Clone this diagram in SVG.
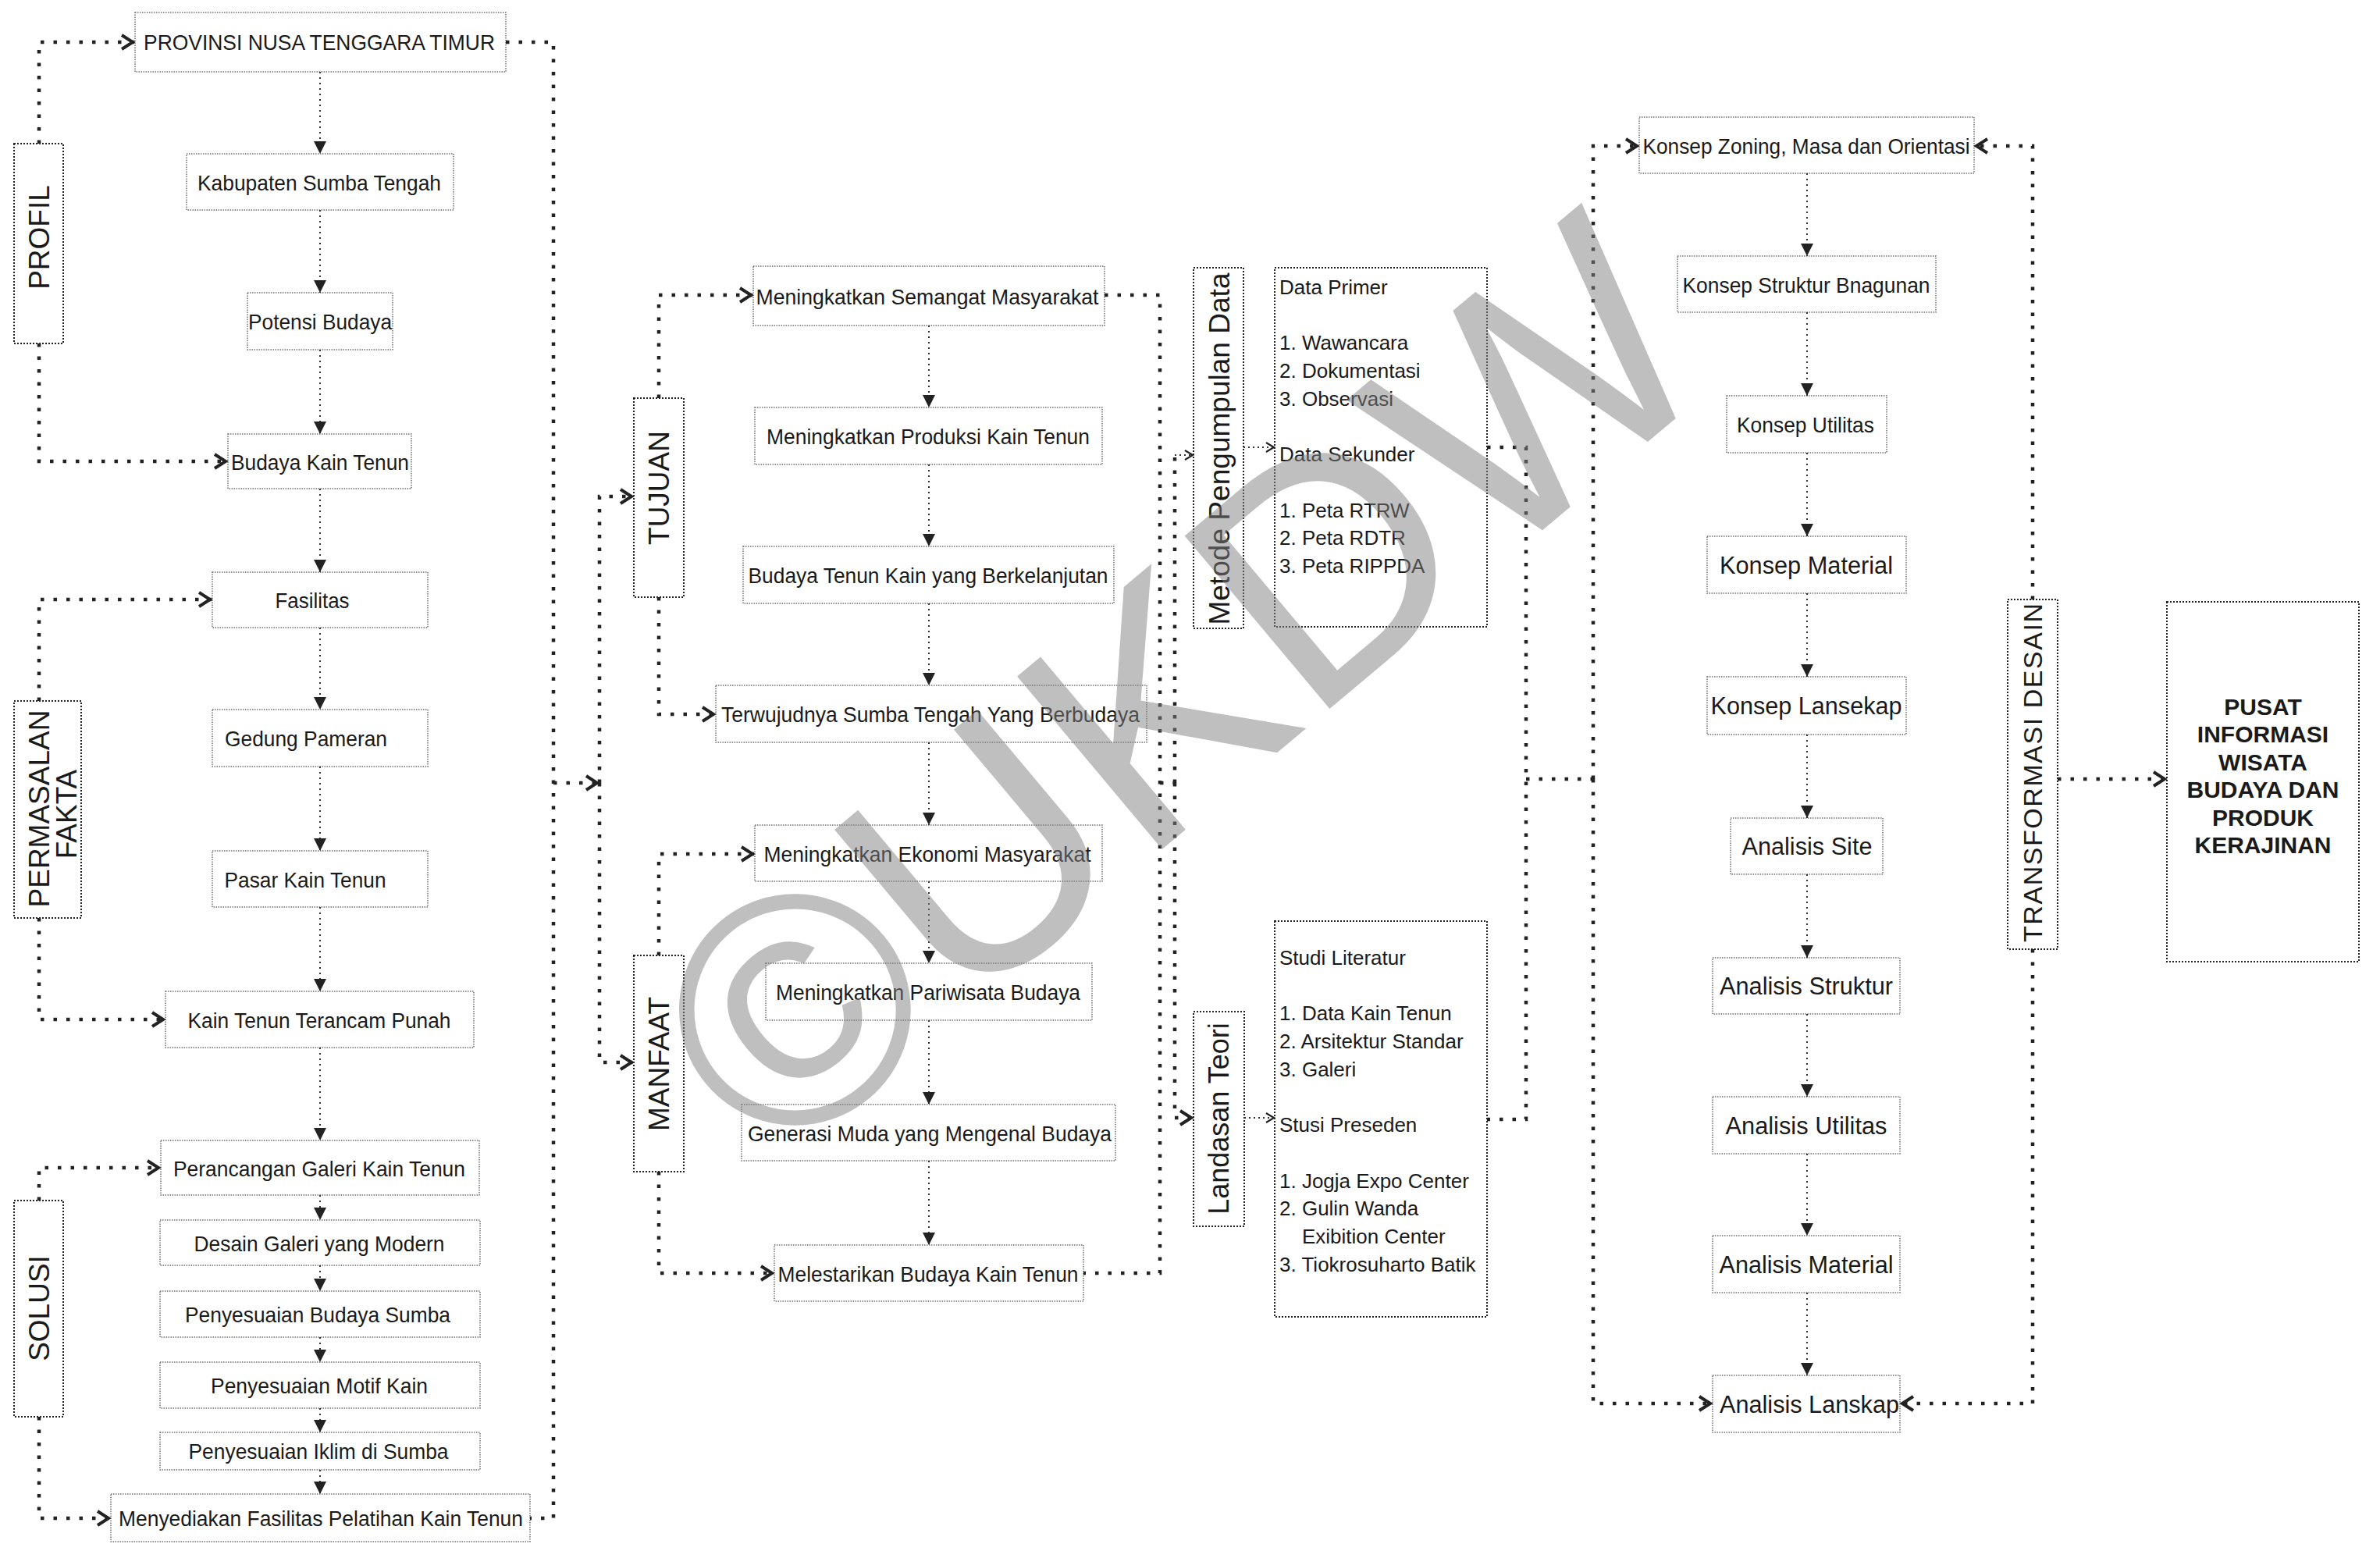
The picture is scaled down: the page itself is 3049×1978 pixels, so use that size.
<svg xmlns="http://www.w3.org/2000/svg" width="3049" height="1978" viewBox="0 0 3049 1978">
<style>
.box{fill:#fff;stroke:#707070;stroke-width:1.5;stroke-dasharray:1.5 1.5}
.lbl{fill:#fff;stroke:#222;stroke-width:2;stroke-dasharray:2 2}
.t{font-family:"Liberation Sans",Arial,sans-serif;font-size:28px;fill:#1a1a1a;text-anchor:middle}
.tb{font-family:"Liberation Sans",Arial,sans-serif;font-size:31px;fill:#1a1a1a;text-anchor:middle}
.rl{font-family:"Liberation Sans",Arial,sans-serif;font-size:37px;fill:#1a1a1a;text-anchor:middle}
.ls{font-family:"Liberation Sans",Arial,sans-serif;font-size:26px;fill:#1a1a1a}
.bold{font-family:"Liberation Sans",Arial,sans-serif;font-size:30px;font-weight:bold;fill:#1a1a1a;text-anchor:middle}
.tv{fill:none;stroke:#333;stroke-width:2;stroke-dasharray:2 5;marker-end:url(#tri)}
.fb{fill:none;stroke:#222;stroke-width:4.5;stroke-dasharray:4.5 12}
.th{fill:none;stroke:#333;stroke-width:2;stroke-dasharray:2 4}
.ca{marker-end:url(#chev)}
.cs{marker-end:url(#chevs)}
.wm{font-family:"Liberation Sans",Arial,sans-serif;font-size:420px;fill:#808080}
</style>
<defs>
<marker id="tri" viewBox="0 0 16 16" refX="16" refY="8" markerWidth="16" markerHeight="16" markerUnits="userSpaceOnUse" orient="auto"><path d="M0,0 L16,8 L0,16 z" fill="#222"/></marker>
<marker id="chev" viewBox="-20 -12 22 24" refX="0" refY="0" markerWidth="22" markerHeight="24" markerUnits="userSpaceOnUse" orient="auto" style="overflow:visible"><path d="M-17,-9 L-3,0 L-17,9" fill="none" stroke="#222" stroke-width="4" stroke-dasharray="none"/></marker>
<marker id="chevs" viewBox="-14 -8 16 16" refX="0" refY="0" markerWidth="16" markerHeight="16" markerUnits="userSpaceOnUse" orient="auto" style="overflow:visible"><path d="M-11,-6 L-1,0 L-11,6" fill="none" stroke="#222" stroke-width="2.2" stroke-dasharray="none"/></marker>
</defs>
<rect width="3049" height="1978" fill="#fff"/>

<!-- left column nodes -->
<g id="n-provinsi"><rect class="box" x="173" y="16" width="475" height="76"/><text class="t" x="409" y="64" textLength="450" lengthAdjust="spacingAndGlyphs">PROVINSI NUSA TENGGARA TIMUR</text></g>
<g id="n-kabupaten"><rect class="box" x="239" y="197" width="342" height="72"/><text class="t" x="409" y="244" textLength="312" lengthAdjust="spacingAndGlyphs">Kabupaten Sumba Tengah</text></g>
<g id="n-potensi"><rect class="box" x="317" y="375" width="186" height="73"/><text class="t" x="410" y="422" textLength="184" lengthAdjust="spacingAndGlyphs">Potensi Budaya</text></g>
<g id="n-budayakain"><rect class="box" x="292" y="556" width="235" height="70"/><text class="t" x="410" y="602" textLength="228" lengthAdjust="spacingAndGlyphs">Budaya Kain Tenun</text></g>
<g id="n-fasilitas"><rect class="box" x="272" y="733" width="276" height="71"/><text class="t" x="400" y="779" textLength="95" lengthAdjust="spacingAndGlyphs">Fasilitas</text></g>
<g id="n-gedung"><rect class="box" x="272" y="909" width="276" height="73"/><text class="t" x="392" y="956" textLength="208" lengthAdjust="spacingAndGlyphs">Gedung Pameran</text></g>
<g id="n-pasar"><rect class="box" x="272" y="1090" width="276" height="72"/><text class="t" x="391" y="1137" textLength="207" lengthAdjust="spacingAndGlyphs">Pasar Kain Tenun</text></g>
<g id="n-terancam"><rect class="box" x="212" y="1270" width="395" height="72"/><text class="t" x="409" y="1317" textLength="337" lengthAdjust="spacingAndGlyphs">Kain Tenun Terancam Punah</text></g>
<g id="n-perancangan"><rect class="box" x="206" y="1461" width="408" height="70"/><text class="t" x="409" y="1507" textLength="374" lengthAdjust="spacingAndGlyphs">Perancangan Galeri Kain Tenun</text></g>
<g id="n-desain"><rect class="box" x="205" y="1563" width="410" height="58"/><text class="t" x="409" y="1603" textLength="321" lengthAdjust="spacingAndGlyphs">Desain Galeri yang Modern</text></g>
<g id="n-budayasumba"><rect class="box" x="205" y="1654" width="410" height="59"/><text class="t" x="407" y="1694" textLength="340" lengthAdjust="spacingAndGlyphs">Penyesuaian Budaya Sumba</text></g>
<g id="n-motif"><rect class="box" x="205" y="1745" width="410" height="59"/><text class="t" x="409" y="1785" textLength="278" lengthAdjust="spacingAndGlyphs">Penyesuaian Motif Kain</text></g>
<g id="n-iklim"><rect class="box" x="205" y="1835" width="410" height="48"/><text class="t" x="408" y="1869" textLength="333" lengthAdjust="spacingAndGlyphs">Penyesuaian Iklim di Sumba</text></g>
<g id="n-menyediakan"><rect class="box" x="142" y="1914" width="537" height="61"/><text class="t" x="411" y="1955" textLength="518" lengthAdjust="spacingAndGlyphs">Menyediakan Fasilitas Pelatihan Kain Tenun</text></g>

<!-- left labels -->
<g id="l-profil"><rect class="lbl" x="18" y="184" width="63" height="256"/><text class="rl" transform="translate(63,304) rotate(-90)">PROFIL</text></g>
<g id="l-permasalan"><rect class="lbl" x="18" y="898" width="86" height="278"/><text class="rl" transform="translate(63,1036) rotate(-90)">PERMASALAN</text><text class="rl" transform="translate(98,1043) rotate(-90)">FAKTA</text></g>
<g id="l-solusi"><rect class="lbl" x="18" y="1538" width="63" height="277"/><text class="rl" transform="translate(63,1676) rotate(-90)">SOLUSI</text></g>

<!-- middle labels -->
<g id="l-tujuan"><rect class="lbl" x="812" y="510" width="64" height="255"/><text class="rl" transform="translate(857,625) rotate(-90)">TUJUAN</text></g>
<g id="l-manfaat"><rect class="lbl" x="812" y="1224" width="64" height="277"/><text class="rl" transform="translate(857,1363) rotate(-90)">MANFAAT</text></g>

<!-- middle column nodes -->
<g id="n-semangat"><rect class="box" x="965" y="341" width="450" height="76"/><text class="t" x="1188" y="390" textLength="439" lengthAdjust="spacingAndGlyphs">Meningkatkan Semangat Masyarakat</text></g>
<g id="n-produksi"><rect class="box" x="967" y="522" width="445" height="73"/><text class="t" x="1189" y="569" textLength="414" lengthAdjust="spacingAndGlyphs">Meningkatkan Produksi Kain Tenun</text></g>
<g id="n-berkelanjutan"><rect class="box" x="952" y="700" width="475" height="73"/><text class="t" x="1189" y="747" textLength="461" lengthAdjust="spacingAndGlyphs">Budaya Tenun Kain yang Berkelanjutan</text></g>
<g id="n-terwujudnya"><rect class="box" x="917" y="878" width="552" height="73"/><text class="t" x="1192" y="925" textLength="536" lengthAdjust="spacingAndGlyphs">Terwujudnya Sumba Tengah Yang Berbudaya</text></g>
<g id="n-ekonomi"><rect class="box" x="967" y="1057" width="445" height="72"/><text class="t" x="1188" y="1104" textLength="419" lengthAdjust="spacingAndGlyphs">Meningkatkan Ekonomi Masyarakat</text></g>
<g id="n-pariwisata"><rect class="box" x="981" y="1234" width="418" height="73"/><text class="t" x="1189" y="1281" textLength="390" lengthAdjust="spacingAndGlyphs">Meningkatkan Pariwisata Budaya</text></g>
<g id="n-generasi"><rect class="box" x="950" y="1415" width="479" height="72"/><text class="t" x="1191" y="1462" textLength="466" lengthAdjust="spacingAndGlyphs">Generasi Muda yang Mengenal Budaya</text></g>
<g id="n-melestarikan"><rect class="box" x="992" y="1595" width="396" height="72"/><text class="t" x="1189" y="1642" textLength="385" lengthAdjust="spacingAndGlyphs">Melestarikan Budaya Kain Tenun</text></g>

<!-- method / theory -->
<g id="l-metode"><rect class="lbl" x="1529" y="343" width="64" height="462"/><text class="rl" style="font-size:36px" transform="translate(1575,575) rotate(-90)" textLength="451" lengthAdjust="spacingAndGlyphs">Metode Pengumpulan Data</text></g>
<g id="n-data"><rect class="lbl" x="1633" y="343" width="272" height="460"/>
<text class="ls" x="1639" y="377">Data Primer</text>
<text class="ls" x="1639" y="448">1. Wawancara</text>
<text class="ls" x="1639" y="484">2. Dokumentasi</text>
<text class="ls" x="1639" y="520">3. Observasi</text>
<text class="ls" x="1639" y="591">Data Sekunder</text>
<text class="ls" x="1639" y="663">1. Peta RTRW</text>
<text class="ls" x="1639" y="698">2. Peta RDTR</text>
<text class="ls" x="1639" y="734">3. Peta RIPPDA</text></g>
<g id="l-landasan"><rect class="lbl" x="1529" y="1296" width="65" height="275"/><text class="rl" style="font-size:36px" transform="translate(1574,1433) rotate(-90)">Landasan Teori</text></g>
<g id="n-studi"><rect class="lbl" x="1633" y="1180" width="272" height="507"/>
<text class="ls" x="1639" y="1236">Studi Literatur</text>
<text class="ls" x="1639" y="1307">1. Data Kain Tenun</text>
<text class="ls" x="1639" y="1343">2. Arsitektur Standar</text>
<text class="ls" x="1639" y="1379">3. Galeri</text>
<text class="ls" x="1639" y="1450">Stusi Preseden</text>
<text class="ls" x="1639" y="1522">1. Jogja Expo Center</text>
<text class="ls" x="1639" y="1557">2. Gulin Wanda</text>
<text class="ls" x="1668" y="1593">Exibition Center</text>
<text class="ls" x="1639" y="1629">3. Tiokrosuharto Batik</text></g>

<!-- right column nodes -->
<g id="n-zoning"><rect class="box" x="2100" y="150" width="429" height="72"/><text class="t" x="2314" y="197" textLength="419" lengthAdjust="spacingAndGlyphs">Konsep Zoning, Masa dan Orientasi</text></g>
<g id="n-kstruktur"><rect class="box" x="2149" y="328" width="331" height="72"/><text class="t" x="2314" y="375" textLength="317" lengthAdjust="spacingAndGlyphs">Konsep Struktur Bnagunan</text></g>
<g id="n-kutilitas"><rect class="box" x="2212" y="507" width="205" height="73"/><text class="t" x="2313" y="554" textLength="176" lengthAdjust="spacingAndGlyphs">Konsep Utilitas</text></g>
<g id="n-kmaterial"><rect class="box" x="2187" y="687" width="255" height="73"/><text class="tb" x="2314" y="735" textLength="222" lengthAdjust="spacingAndGlyphs">Konsep Material</text></g>
<g id="n-klansekap"><rect class="box" x="2187" y="867" width="255" height="74"/><text class="tb" x="2314" y="915" textLength="245" lengthAdjust="spacingAndGlyphs">Konsep Lansekap</text></g>
<g id="n-asite"><rect class="box" x="2217" y="1048" width="195" height="72"/><text class="tb" x="2315" y="1095" textLength="167" lengthAdjust="spacingAndGlyphs">Analisis Site</text></g>
<g id="n-astruktur"><rect class="box" x="2194" y="1227" width="240" height="72"/><text class="tb" x="2314" y="1274" textLength="222" lengthAdjust="spacingAndGlyphs">Analisis Struktur</text></g>
<g id="n-autilitas"><rect class="box" x="2194" y="1405" width="240" height="73"/><text class="tb" x="2314" y="1453" textLength="207" lengthAdjust="spacingAndGlyphs">Analisis Utilitas</text></g>
<g id="n-amaterial"><rect class="box" x="2194" y="1583" width="240" height="73"/><text class="tb" x="2314" y="1631" textLength="223" lengthAdjust="spacingAndGlyphs">Analisis Material</text></g>
<g id="n-alanskap"><rect class="box" x="2194" y="1762" width="240" height="73"/><text class="tb" x="2318" y="1810" textLength="230" lengthAdjust="spacingAndGlyphs">Analisis Lanskap</text></g>

<g id="l-transformasi"><rect class="lbl" x="2572" y="768" width="64" height="448"/><text class="rl" style="font-size:34px" transform="translate(2616,990) rotate(-90)" textLength="434" lengthAdjust="spacing">TRANSFORMASI DESAIN</text></g>
<g id="n-pusat"><rect class="lbl" x="2776" y="771" width="246" height="461"/>
<text class="bold" x="2899" y="916">PUSAT</text>
<text class="bold" x="2899" y="951">INFORMASI</text>
<text class="bold" x="2899" y="987">WISATA</text>
<text class="bold" x="2899" y="1022">BUDAYA DAN</text>
<text class="bold" x="2899" y="1058">PRODUK</text>
<text class="bold" x="2899" y="1093">KERAJINAN</text></g>

<!-- connectors -->
<g id="connectors">
<path class="tv" d="M410,92 V197"/>
<path class="tv" d="M410,269 V375"/>
<path class="tv" d="M410,448 V556"/>
<path class="tv" d="M410,626 V733"/>
<path class="tv" d="M410,804 V909"/>
<path class="tv" d="M410,982 V1090"/>
<path class="tv" d="M410,1162 V1270"/>
<path class="tv" d="M410,1342 V1461"/>
<path class="tv" d="M410,1531 V1563"/>
<path class="tv" d="M410,1621 V1654"/>
<path class="tv" d="M410,1713 V1745"/>
<path class="tv" d="M410,1804 V1835"/>
<path class="tv" d="M410,1883 V1914"/>

<path class="tv" d="M1190,417 V522"/>
<path class="tv" d="M1190,595 V700"/>
<path class="tv" d="M1190,773 V878"/>
<path class="tv" d="M1190,951 V1057"/>
<path class="tv" d="M1190,1129 V1234"/>
<path class="tv" d="M1190,1307 V1415"/>
<path class="tv" d="M1190,1487 V1595"/>

<path class="tv" d="M2315,222 V328"/>
<path class="tv" d="M2315,400 V507"/>
<path class="tv" d="M2315,580 V687"/>
<path class="tv" d="M2315,760 V867"/>
<path class="tv" d="M2315,941 V1048"/>
<path class="tv" d="M2315,1120 V1227"/>
<path class="tv" d="M2315,1299 V1405"/>
<path class="tv" d="M2315,1478 V1583"/>
<path class="tv" d="M2315,1656 V1762"/>

<path class="fb ca" d="M50,184 V54 H173"/>
<path class="fb ca" d="M50,440 V591 H292"/>
<path class="fb ca" d="M50,898 V768 H272"/>
<path class="fb ca" d="M50,1176 V1306 H212"/>
<path class="fb ca" d="M50,1538 V1496 H206"/>
<path class="fb ca" d="M50,1815 V1945 H142"/>
<path class="fb" d="M648,54 H709 V1945 H679"/>
<path class="fb ca" d="M709,1003 H768"/>
<path class="fb ca" d="M768,1003 V636 H812"/>
<path class="fb ca" d="M768,1003 V1361 H812"/>
<path class="fb ca" d="M844,510 V378 H965"/>
<path class="fb ca" d="M844,765 V915 H917"/>
<path class="fb ca" d="M844,1224 V1094 H967"/>
<path class="fb ca" d="M844,1501 V1631 H992"/>
<path class="fb" d="M1415,378 H1486 V1631 H1388"/>
<path class="fb" d="M1486,1003 H1505"/>
<path class="fb" d="M1505,1003 V583"/>
<path class="th cs" d="M1505,583 H1529"/>
<path class="fb ca" d="M1505,1003 V1432 H1529"/>
<path class="th cs" d="M1593,573 H1633"/>
<path class="th cs" d="M1594,1432 H1633"/>
<path class="fb" d="M1905,573 H1955 V1434 H1905"/>
<path class="fb" d="M1955,998 H2041"/>
<path class="fb ca" d="M2041,998 V187 H2100"/>
<path class="fb ca" d="M2041,998 V1798 H2194"/>
<path class="fb ca" d="M2604,768 V187 H2529"/>
<path class="fb ca" d="M2604,1216 V1798 H2434"/>
<path class="fb ca" d="M2636,998 H2776"/>
</g>

<g opacity="0.5"><text class="wm" transform="translate(993,1504) rotate(-40)">©UKDW</text></g>
</svg>
